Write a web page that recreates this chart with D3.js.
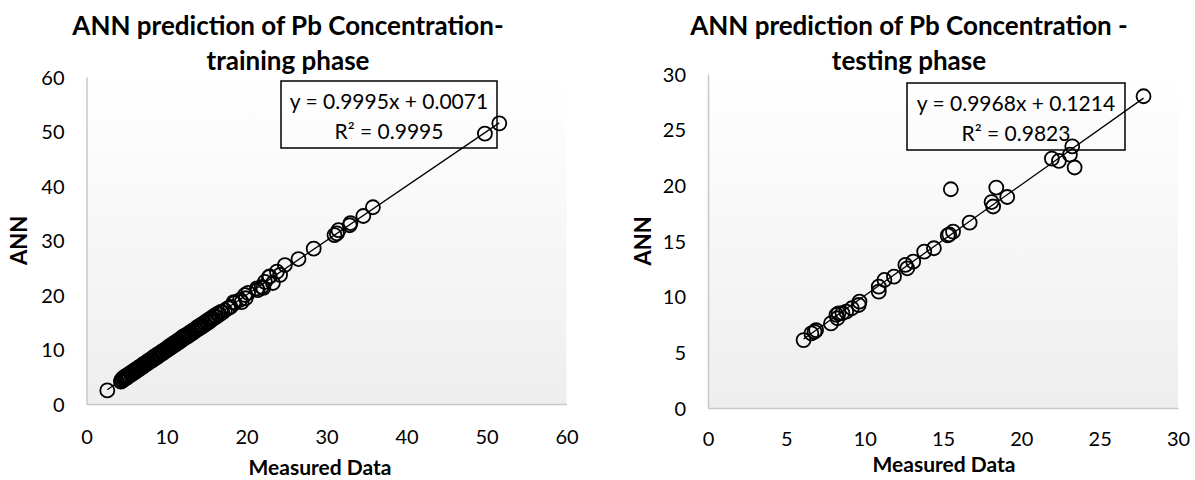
<!DOCTYPE html>
<html lang="en">
<head>
<meta charset="UTF-8">
<title>ANN prediction of Pb Concentration</title>
<script src="https://cdn.jsdelivr.net/npm/d3@7"></script>
<style>
  body { margin: 0; background: #fff; }
  svg text { font-family: Lato, "Noto Sans", sans-serif; fill: #000; }
</style>
</head>
<body>
<div id="chart"></div>
<script>
// training phase: measured vs ANN output
var trainMeasured = [2.6, 4.3, 4.4, 4.5, 4.6, 4.7, 4.8, 4.9, 5.0, 5.1, 5.2, 5.35, 5.5, 5.6, 5.75, 5.9, 6.0, 6.1,
  6.25, 6.4, 6.5, 6.6, 6.75, 6.9, 7.0, 7.1, 7.2, 7.35, 7.5, 7.6, 7.7, 7.85, 8.0, 8.1, 8.2, 8.3, 8.45,
  8.6, 8.7, 8.8, 8.9, 9.0, 9.1, 9.25, 9.4, 9.5, 9.6, 9.7, 9.85, 10.0, 10.1, 10.2, 10.35, 10.5, 10.6,
  10.7, 10.85, 11.0, 11.1, 11.2, 11.35, 11.5, 11.6, 11.7, 11.85, 12.0, 12.1, 12.25, 12.4, 12.5, 12.65,
  12.8, 12.9, 13.0, 13.15, 13.3, 13.4, 13.55, 13.7, 13.85, 14.0, 14.1, 14.25, 14.4, 14.55, 14.7, 14.85,
  15.0, 15.15, 15.3, 15.45, 15.6, 15.8, 16.0, 16.2, 16.4, 16.6, 16.8, 17.0, 17.3, 17.7, 18.0, 18.4,
  18.5, 19.2, 19.4, 19.8, 19.9, 20.2, 21.3, 21.4, 21.9, 22.1, 22.3, 22.8, 22.9, 23.3, 23.8, 24.2,
  24.8, 26.5, 28.4, 31.0, 31.3, 31.5, 32.9, 33.0, 34.6, 35.8, 49.8, 51.6];
var trainAnn = [2.5, 4.1, 4.5, 4.3, 4.8, 4.6, 5.0, 4.7, 5.2, 4.9, 5.4, 5.2, 5.7, 5.4, 5.9, 5.7, 6.2, 5.9,
  6.4, 6.2, 6.7, 6.4, 6.9, 6.7, 7.2, 6.9, 7.4, 7.2, 7.7, 7.4, 7.9, 7.7, 8.2, 7.9, 8.4, 8.1, 8.7,
  8.4, 8.9, 8.6, 9.1, 8.8, 9.3, 9.1, 9.6, 9.3, 9.8, 9.5, 10.0, 9.8, 10.3, 10.0, 10.6, 10.3, 10.8,
  10.5, 11.1, 10.8, 11.3, 11.0, 11.6, 11.3, 11.8, 11.5, 12.1, 12.3, 11.9, 12.5, 12.2, 12.7, 12.4,
  13.0, 12.7, 13.2, 12.9, 13.5, 13.2, 13.7, 13.5, 14.1, 13.8, 14.3, 14.0, 14.6, 14.3, 14.9, 14.6,
  15.2, 14.9, 15.5, 15.2, 15.8, 15.6, 16.2, 16.0, 16.6, 16.4, 16.9, 16.8, 17.2, 17.6, 17.8, 18.7,
  18.5, 19.1, 18.7, 20.0, 19.4, 20.4, 21.2, 20.9, 21.5, 21.3, 22.4, 23.3, 23.4, 22.2, 24.3, 23.7,
  25.5, 26.6, 28.5, 31.0, 31.3, 31.9, 32.8, 33.2, 34.5, 36.1, 49.6, 51.5];

// testing phase: measured vs ANN output
var testMeasured = [6.1, 6.6, 6.8, 6.9, 7.85, 8.2, 8.26, 8.33, 8.58, 8.82, 9.18, 9.62, 9.67, 10.9, 10.9,
  11.26, 11.87, 12.6, 12.72, 13.1, 13.8, 14.42, 15.3, 15.4, 15.5, 15.64, 16.7, 18.1, 18.2, 18.4,
  19.1, 21.95, 22.4, 23.1, 23.25, 23.4, 27.8];
var testAnn = [6.1, 6.7, 6.85, 7.0, 7.6, 8.36, 8.06, 8.5, 8.53, 8.66, 8.96, 9.25, 9.55, 10.9, 10.45,
  11.5, 11.8, 12.85, 12.55, 13.15, 14.05, 14.35, 15.5, 15.6, 19.65, 15.84, 16.65, 18.5, 18.1, 19.8,
  18.95, 22.4, 22.2, 22.75, 23.5, 21.6, 28.0];

var trainTitle = ["ANN prediction of Pb Concentration-", "training phase"];
var testTitle = ["ANN prediction of Pb Concentration -", "testing phase"];
var trainEq = ["y = 0.9995x + 0.0071", "R² = 0.9995"];
var testEq = ["y = 0.9968x + 0.1214", "R² = 0.9823"];
var trainFit = {slope: 0.9995, intercept: 0.0071};
var testFit = {slope: 0.9968, intercept: 0.1214};
var trainTicks = [0, 10, 20, 30, 40, 50, 60];
var testTicks = [0, 5, 10, 15, 20, 25, 30];

var svg = d3.select("#chart").append("svg")
    .attr("width", 1195)
    .attr("height", 480);

var defs = svg.append("defs");
var grad = defs.append("linearGradient")
    .attr("id", "plotBg")
    .attr("x1", 0).attr("y1", 0).attr("x2", 0).attr("y2", 1);
grad.append("stop").attr("offset", "0%").attr("stop-color", "#ffffff");
grad.append("stop").attr("offset", "100%").attr("stop-color", "#eeeeee");

function drawPanel(p) {
    var x = d3.scaleLinear().domain([0, p.max]).range([p.left, p.right]);
    var y = d3.scaleLinear().domain([0, p.max]).range([p.bottom, p.top]);
    var g = svg.append("g");

    // plot area
    g.append("rect")
        .attr("x", p.left).attr("y", p.top)
        .attr("width", p.right - p.left).attr("height", p.bottom - p.top)
        .attr("fill", "url(#plotBg)");

    // axes (no tick marks, grey line only)
    var xAxis = g.append("g")
        .attr("transform", "translate(0," + p.bottom + ")")
        .call(d3.axisBottom(x).tickValues(p.ticks).tickSize(0).tickPadding(24));
    var yAxis = g.append("g")
        .attr("transform", "translate(" + p.left + ",0)")
        .call(d3.axisLeft(y).tickValues(p.ticks).tickSize(0).tickPadding(22));
    [xAxis, yAxis].forEach(function (a) {
        a.select(".domain").attr("stroke", "#c8c8c8").attr("stroke-width", 1.5);
        a.selectAll("text")
            .style("font-family", "Lato, sans-serif")
            .style("font-size", "20px")
            .attr("fill", "#000");
    });
    xAxis.selectAll("text").attr("dy", "0.35em").attr("y", p.xTickY - p.bottom);
    yAxis.selectAll("text").attr("dy", "0.35em");

    // trendline over the data range
    var xs = d3.extent(p.measured);
    g.append("line")
        .attr("x1", x(xs[0])).attr("y1", y(p.fit.slope * xs[0] + p.fit.intercept))
        .attr("x2", x(xs[1])).attr("y2", y(p.fit.slope * xs[1] + p.fit.intercept))
        .attr("stroke", "#000").attr("stroke-width", 1.3);

    // markers
    g.append("g").selectAll("circle")
        .data(p.measured)
        .join("circle")
        .attr("cx", function (d) { return x(d); })
        .attr("cy", function (d, i) { return y(p.ann[i]); })
        .attr("r", 7)
        .attr("fill", "none")
        .attr("stroke", "#000")
        .attr("stroke-width", 1.8);

    // equation box
    g.append("rect")
        .attr("x", p.box[0]).attr("y", p.box[1])
        .attr("width", p.box[2]).attr("height", p.box[3])
        .attr("fill", "none").attr("stroke", "#000").attr("stroke-width", 1.5);
    g.selectAll(".eq")
        .data(p.eq)
        .join("text")
        .attr("x", p.box[0] + p.box[2] / 2)
        .attr("y", function (d, i) { return p.box[1] + 28 + i * 30; })
        .attr("text-anchor", "middle")
        .style("font-size", "21px")
        .text(function (d) { return d; });

    // title
    g.selectAll(".title")
        .data(p.title)
        .join("text")
        .attr("x", p.titleX)
        .attr("y", function (d, i) { return p.titleY + i * 35; })
        .attr("text-anchor", "middle")
        .style("font-size", "26px")
        .style("font-weight", "bold")
        .text(function (d) { return d; });

    // axis titles
    g.append("text")
        .attr("x", p.xTitleX)
        .attr("y", p.xTitleY)
        .attr("text-anchor", "middle")
        .style("font-size", "21px")
        .style("font-weight", "bold")
        .text("Measured Data");
    g.append("text")
        .attr("transform", "translate(" + p.yTitleX + "," + ((p.top + p.bottom) / 2) + ") rotate(-90)")
        .attr("text-anchor", "middle")
        .style("font-size", "22px")
        .style("font-weight", "bold")
        .text("ANN");
}

drawPanel({
    measured: trainMeasured, ann: trainAnn, fit: trainFit, ticks: trainTicks, max: 60,
    left: 86.5, right: 566.5, top: 77, bottom: 404,
    xTickY: 437, xTitleX: 320, xTitleY: 475, yTitleX: 27,
    title: trainTitle, titleX: 288, titleY: 35,
    eq: trainEq, box: [281, 81, 216, 67]
});

drawPanel({
    measured: testMeasured, ann: testAnn, fit: testFit, ticks: testTicks, max: 30,
    left: 708, right: 1178, top: 74, bottom: 408,
    xTickY: 439, xTitleX: 944, xTitleY: 472, yTitleX: 651,
    title: testTitle, titleX: 909, titleY: 35,
    eq: testEq, box: [907, 83, 218, 67]
});
</script>
</body>
</html>
